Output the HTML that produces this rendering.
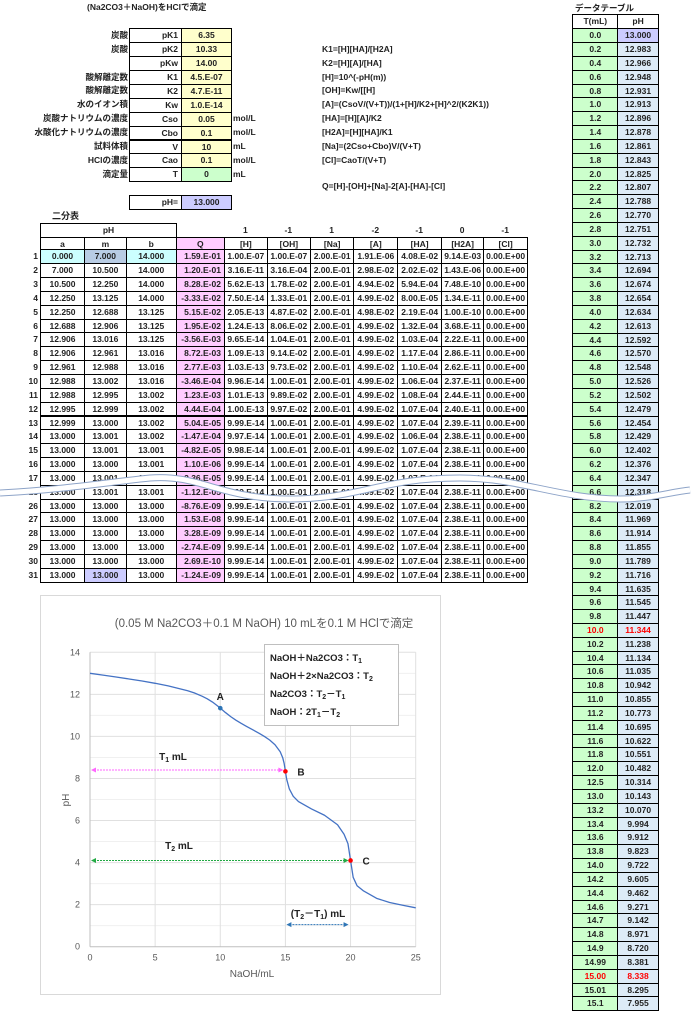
<!DOCTYPE html>
<html><head><meta charset="utf-8">
<style>
body{margin:0;width:700px;height:1012px;overflow:hidden;background:#fff;position:relative;font-family:"Liberation Sans","Noto Sans CJK JP",sans-serif;font-size:8.5px;font-weight:bold;color:#222}
.a{position:absolute;white-space:nowrap;line-height:14px}
.c{position:absolute;box-sizing:border-box;text-align:center;line-height:13px;border:1px solid #000;white-space:nowrap;overflow:hidden}
.r{text-align:right;padding-right:3px}
svg{font-weight:normal}
</style></head><body>
<div class="a" style="left:87px;top:0px">(Na2CO3＋NaOH)をHClで滴定</div>
<div class="a" style="left:575px;top:1px">データテーブル</div>
<div class="a" style="left:52px;top:209px;font-size:9px">二分表</div>
<div id="params"></div>
<div id="bis"></div>
<div id="dt"></div>

<svg style="position:absolute;left:0;top:0" width="700" height="1012">
<path d="M0,493 C60,490 110,482 150,478 C200,474 220,499 290,499 C360,499 380,478 460,478 C520,478 560,499 620,499 C650,499 670,492 690,490" fill="none" stroke="#8ea4c8" stroke-width="7"/>
<path d="M0,493 C60,490 110,482 150,478 C200,474 220,499 290,499 C360,499 380,478 460,478 C520,478 560,499 620,499 C650,499 670,492 690,490" fill="none" stroke="#fff" stroke-width="5"/>
</svg>

<svg id="chart" style="position:absolute;left:40px;top:595px" width="401" height="401" font-family="Liberation Sans, Noto Sans CJK JP, sans-serif"></svg>

<script>
const NS='http://www.w3.org/2000/svg';
function div(parent,cls,style,text){const d=document.createElement('div');d.className=cls;d.style.cssText=style;if(text!==undefined)d.textContent=text;parent.appendChild(d);return d;}
// ---- parameters ----
const pLabels=['炭酸','炭酸','','酸解離定数','酸解離定数','水のイオン積','炭酸ナトリウムの濃度','水酸化ナトリウムの濃度','試料体積','HClの濃度','滴定量'];
const pSyms=['pK1','pK2','pKw','K1','K2','Kw','Cso','Cbo','V','Cao','T'];
const pVals=['6.35','10.33','14.00','4.5.E-07','4.7.E-11','1.0.E-14','0.05','0.1','10','0.1','0'];
const pUnits=['','','','','','','mol/L','mol/L','mL','mol/L','mL'];
const formulas=['','K1=[H][HA]/[H2A]','K2=[H][A]/[HA]','[H]=10^(-pH(m))','[OH]=Kw/[[H]','[A]=(CsoV/(V+T))/(1+[H]/K2+[H]^2/(K2K1))','[HA]=[H][A]/K2','[H2A]=[H][HA]/K1','[Na]=(2Cso+Cbo)V/(V+T)','[Cl]=CaoT/(V+T)',''];
const P=document.getElementById('params');
for(let i=0;i<11;i++){
  const y=28.3+i*13.9;
  let e;
  if(pLabels[i]){e=div(P,'a',`left:0;width:128px;text-align:right;top:${y-0.5}px`,pLabels[i]);
  
  }
  e=div(P,'c r',`left:129px;top:${y}px;width:53px;height:14.9px`,pSyms[i]);
  
  
  e=div(P,'c',`left:181px;top:${y}px;width:51px;height:14.9px;background:${i==10?'#ccffcc':'#ffffcc'}`,pVals[i]);
  
  
  if(pUnits[i]){e=div(P,'a',`left:233px;top:${y-0.5}px`,pUnits[i]);
  
  }
  if(formulas[i]){e=div(P,'a',`left:322px;top:${y-0.5}px`,formulas[i]);
  
  }
}
let e=div(P,'a','left:322px;top:179px','Q=[H]-[OH]+[Na]-2[A]-[HA]-[Cl]');


e=div(P,'c r','left:129px;top:195px;width:53px;height:15px','pH=');


e=div(P,'c','left:181px;top:195px;width:51px;height:15px;background:#ccccff','13.000');



// ---- bisection table ----
const colX=[40,84,125.7,175.7,224,266.7,310,353.3,397.3,441,483.3,527];
const coefs=['1','-1','1','-2','-1','0','-1'];
const heads=['a','m','b','Q','[H]','[OH]','[Na]','[A]','[HA]','[H2A]','[Cl]'];
const rowNums=[1,2,3,4,5,6,7,8,9,10,11,12,13,14,15,16,17,18,26,27,28,29,30,31];
const colA=['0.000','7.000','10.500','12.250','12.250','12.688','12.906','12.906','12.961','12.988','12.988','12.995','12.999','13.000','13.000','13.000','13.000','13.000','13.000','13.000','13.000','13.000','13.000','13.000'];
const colM=['7.000','10.500','12.250','13.125','12.688','12.906','13.016','12.961','12.988','13.002','12.995','12.999','13.000','13.001','13.001','13.000','13.001','13.001','13.000','13.000','13.000','13.000','13.000','13.000'];
const colB=['14.000','14.000','14.000','14.000','13.125','13.125','13.125','13.016','13.016','13.016','13.002','13.002','13.002','13.002','13.001','13.001','13.001','13.001','13.000','13.000','13.000','13.000','13.000','13.000'];
const colQ=['1.59.E-01','1.20.E-01','8.28.E-02','-3.33.E-02','5.15.E-02','1.95.E-02','-3.56.E-03','8.72.E-03','2.77.E-03','-3.46.E-04','1.23.E-03','4.44.E-04','5.04.E-05','-1.47.E-04','-4.82.E-05','1.10.E-06','-2.36.E-05','-1.12.E-05','-8.76.E-09','1.53.E-08','3.28.E-09','-2.74.E-09','2.69.E-10','-1.24.E-09'];
const colH=['1.00.E-07','3.16.E-11','5.62.E-13','7.50.E-14','2.05.E-13','1.24.E-13','9.65.E-14','1.09.E-13','1.03.E-13','9.96.E-14','1.01.E-13','1.00.E-13','9.99.E-14','9.97.E-14','9.98.E-14','9.99.E-14','9.99.E-14','9.99.E-14','9.99.E-14','9.99.E-14','9.99.E-14','9.99.E-14','9.99.E-14','9.99.E-14'];
const colOH=['1.00.E-07','3.16.E-04','1.78.E-02','1.33.E-01','4.87.E-02','8.06.E-02','1.04.E-01','9.14.E-02','9.73.E-02','1.00.E-01','9.89.E-02','9.97.E-02','1.00.E-01','1.00.E-01','1.00.E-01','1.00.E-01','1.00.E-01','1.00.E-01','1.00.E-01','1.00.E-01','1.00.E-01','1.00.E-01','1.00.E-01','1.00.E-01'];
const colAA=['1.91.E-06','2.98.E-02','4.94.E-02','4.99.E-02','4.98.E-02'];
const colHA=['4.08.E-02','2.02.E-02','5.94.E-04','8.00.E-05','2.19.E-04','1.32.E-04','1.03.E-04','1.17.E-04','1.10.E-04','1.06.E-04','1.08.E-04','1.07.E-04','1.07.E-04','1.06.E-04','1.07.E-04','1.07.E-04','1.07.E-04','1.07.E-04','1.07.E-04','1.07.E-04','1.07.E-04','1.07.E-04','1.07.E-04','1.07.E-04'];
const colH2A=['9.14.E-03','1.43.E-06','7.48.E-10','1.34.E-11','1.00.E-10','3.68.E-11','2.22.E-11','2.86.E-11','2.62.E-11','2.37.E-11','2.44.E-11','2.40.E-11','2.39.E-11','2.38.E-11','2.38.E-11','2.38.E-11','2.38.E-11','2.38.E-11','2.38.E-11','2.38.E-11','2.38.E-11','2.38.E-11','2.38.E-11','2.38.E-11'];
const B=document.getElementById('bis');
e=div(B,'c',`left:40px;top:222.5px;width:137px;height:15.2px`,'pH');


for(let j=0;j<7;j++){e=div(B,'a',`left:${colX[j+4]}px;width:${colX[j+5]-colX[j+4]}px;text-align:center;top:223px`,coefs[j]);

}
for(let j=0;j<11;j++){e=div(B,'c',`left:${colX[j]}px;top:236.7px;width:${colX[j+1]-colX[j]+1}px;height:13.6px;${j==3?'background:#ffccff':''}`,heads[j]);

}
const rh=13.85;
for(let i=0;i<24;i++){
  const y=249.3+i*rh;
  e=div(B,'a',`left:0;width:38px;text-align:right;top:${y}px`,String(rowNums[i]));
  
  
  const vals=[colA[i],colM[i],colB[i],colQ[i],colH[i],colOH[i],'2.00.E-01',colAA[i]||'4.99.E-02',colHA[i],colH2A[i],'0.00.E+00'];
  for(let j=0;j<11;j++){
    let bg='';
    if(j==3)bg='background:#ffccff';
    if(i==0&&(j==0||j==2))bg='background:#ccffff';
    if(i==0&&j==1)bg='background:#b8cce4';
    if(i==23&&j==1)bg='background:#ccccff';
    e=div(B,'c'+(j>=3?' r':''),`left:${colX[j]}px;top:${y}px;width:${colX[j+1]-colX[j]+1}px;height:${rh+1}px;${bg};${j>=4?'text-align:center;padding:0':''}`,vals[j]);
    
    
  }
}

// ---- data table ----
const tVals=['0.0','0.2','0.4','0.6','0.8','1.0','1.2','1.4','1.6','1.8','2.0','2.2','2.4','2.6','2.8','3.0','3.2','3.4','3.6','3.8','4.0','4.2','4.4','4.6','4.8','5.0','5.2','5.4','5.6','5.8','6.0','6.2','6.4','6.6','8.2','8.4','8.6','8.8','9.0','9.2','9.4','9.6','9.8','10.0','10.2','10.4','10.6','10.8','11.0','11.2','11.4','11.6','11.8','12.0','12.5','13.0','13.2','13.4','13.6','13.8','14.0','14.2','14.4','14.6','14.7','14.8','14.9','14.99','15.00','15.01','15.1'];
const phVals=['13.000','12.983','12.966','12.948','12.931','12.913','12.896','12.878','12.861','12.843','12.825','12.807','12.788','12.770','12.751','12.732','12.713','12.694','12.674','12.654','12.634','12.613','12.592','12.570','12.548','12.526','12.502','12.479','12.454','12.429','12.402','12.376','12.347','12.318','12.019','11.969','11.914','11.855','11.789','11.716','11.635','11.545','11.447','11.344','11.238','11.134','11.035','10.942','10.855','10.773','10.695','10.622','10.551','10.482','10.314','10.143','10.070','9.994','9.912','9.823','9.722','9.605','9.462','9.271','9.142','8.971','8.720','8.381','8.338','8.295','7.955'];
const D=document.getElementById('dt');
e=div(D,'c','left:572.3px;top:14.3px;width:46px;height:15px','T(mL)');


e=div(D,'c','left:617.3px;top:14.3px;width:41.5px;height:15px','pH');


for(let i=0;i<tVals.length;i++){
  const y=28.3+i*13.83;
  const red=(tVals[i]=='10.0'||tVals[i]=='15.00')?'color:#ff0000;':'';
  e=div(D,'c',`left:572.3px;top:${y}px;width:46px;height:14.9px;background:#ccffcc;${red}`,tVals[i]);
  
  
  e=div(D,'c',`left:617.3px;top:${y}px;width:41.5px;height:14.9px;background:${i==0?'#ccccff':'#ddebf7'};${red}`,phVals[i]);
  
  
}

// ---- chart ----
const curveT=[0,1,2,3,4,5,6,7,7.5,8,8.6,9,9.4,9.8,10,10.4,10.8,11.2,11.6,12,12.5,13,13.4,13.8,14.2,14.6,14.8,14.9,14.99,15,15.01,15.1,15.3,15.6,16,17,18,19,19.5,19.8,20,20.2,20.5,21,22,23,24,25];
const curvePH=[13.0,12.913,12.825,12.732,12.634,12.526,12.402,12.25,12.17,12.07,11.914,11.789,11.635,11.447,11.344,11.134,10.942,10.773,10.622,10.482,10.314,10.143,9.994,9.823,9.605,9.271,8.971,8.72,8.381,8.338,8.295,7.955,7.5,7.15,6.9,6.55,6.25,5.8,5.35,4.9,4.1,3.3,2.9,2.65,2.3,2.1,1.97,1.85];
const markT=[10,15,20];
const markPH=[11.344,8.338,4.1];
const markLabels=['A','B','C'];
const xTicks=[0,5,10,15,20,25];
const yTicks=[0,2,4,6,8,10,12,14];
const X=v=>50+v*(325.7/25), Y=v=>351.7-v*(294.4/14);
const S=document.getElementById('chart');
function sv(tag,attrs,text){const n=document.createElementNS(NS,tag);for(const k in attrs)n.setAttribute(k,attrs[k]);if(text!==undefined)n.textContent=text;S.appendChild(n);return n;}
let n=sv('rect',{x:0.5,y:0.5,width:400,height:399,fill:'#fff',stroke:'#d9d9d9'});


for(let v=1;v<=14;v++){n=sv('line',{x1:X(0),x2:X(25),y1:Y(v),y2:Y(v),stroke:v%2?'#f0f0f0':'#e0e0e0','stroke-width':1});

}
for(const v of xTicks.slice(1)){n=sv('line',{x1:X(v),x2:X(v),y1:Y(0),y2:Y(14),stroke:'#e0e0e0','stroke-width':1});

}
n=sv('line',{x1:X(0),x2:X(0),y1:Y(0),y2:Y(14),stroke:'#bfbfbf'});


n=sv('line',{x1:X(0),x2:X(25),y1:Y(0),y2:Y(0),stroke:'#bfbfbf'});


for(const v of yTicks){n=sv('text',{x:X(0)-10,y:Y(v)+3,'text-anchor':'end','font-size':9,fill:'#595959'},String(v));

}
for(const v of xTicks){n=sv('text',{x:X(v),y:Y(0)+14,'text-anchor':'middle','font-size':9,fill:'#595959'},String(v));

}
n=sv('text',{x:212,y:382,'text-anchor':'middle','font-size':10,fill:'#595959'},'NaOH/mL');


n=sv('text',{x:29,y:205,'text-anchor':'middle','font-size':10,fill:'#595959',transform:'rotate(-90 29 205)'},'pH');


n=sv('text',{x:224,y:32,'text-anchor':'middle','font-size':11.5,fill:'#595959'},'(0.05 M Na2CO3＋0.1 M NaOH) 10 mLを0.1 M HClで滴定');


// arrows
function arrow(t0,t1,ph,col,name){
  const y=Y(ph);
  n=sv('line',{x1:X(t0)+4,x2:X(t1)-5,y1:y,y2:y,stroke:col,'stroke-width':1,'stroke-dasharray':'2,1'});
  
  
  sv('path',{d:`M${X(t0)+1},${y} l5,-2.5 v5z`,fill:col});
  sv('path',{d:`M${X(t1)-2},${y} l-5,-2.5 v5z`,fill:col});
}
arrow(0,15,8.4,'#ff66ff','t1-arrow');
arrow(0,20,4.1,'#22aa44','t2-arrow');
arrow(15,20,1.05,'#2e75b6','t2-t1-arrow');
n=sv('text',{x:133,y:165,'text-anchor':'middle','font-size':10,'font-weight':'bold',fill:'#222'});
n.innerHTML='T<tspan font-size="7" dy="2">1</tspan><tspan dy="-2"> mL</tspan>';


n=sv('text',{x:139,y:254,'text-anchor':'middle','font-size':10,'font-weight':'bold',fill:'#222'});
n.innerHTML='T<tspan font-size="7" dy="2">2</tspan><tspan dy="-2"> mL</tspan>';


n=sv('text',{x:278,y:322,'text-anchor':'middle','font-size':10,'font-weight':'bold',fill:'#222'});
n.innerHTML='(T<tspan font-size="7" dy="2">2</tspan><tspan dy="-2">－T</tspan><tspan font-size="7" dy="2">1</tspan><tspan dy="-2">) mL</tspan>';


// curve
let d='';curveT.forEach((t,i)=>{d+=(i?'L':'M')+X(t).toFixed(2)+','+Y(curvePH[i]).toFixed(2);});
n=sv('path',{d:d,fill:'none',stroke:'#4472c4','stroke-width':1.3,'stroke-linejoin':'round'});


markT.forEach((t,i)=>{
  n=sv('circle',{cx:X(t),cy:Y(markPH[i]),r:2.3,fill:i==0?'#2e75b6':'#ff0000'});
  
  
  const lx=i==0?X(t):X(t)+12, ly=i==0?Y(markPH[i])-8:Y(markPH[i])+4;
  n=sv('text',{x:lx,y:ly,'text-anchor':i==0?'middle':'start','font-size':10,'font-weight':'bold',fill:'#222'},markLabels[i]);
  
  
});
// legend box
n=sv('rect',{x:224.5,y:49.5,width:134,height:81,fill:'#fff',stroke:'#bfbfbf'});


const legLines=['NaOH＋Na2CO3：T<tspan font-size="7" dy="2">1</tspan>','NaOH＋2×Na2CO3：T<tspan font-size="7" dy="2">2</tspan>','Na2CO3：T<tspan font-size="7" dy="2">2</tspan><tspan dy="-2">－T</tspan><tspan font-size="7" dy="2">1</tspan>','NaOH：2T<tspan font-size="7" dy="2">1</tspan><tspan dy="-2">－T</tspan><tspan font-size="7" dy="2">2</tspan>'];
legLines.forEach((h,i)=>{n=sv('text',{x:230,y:66+i*18,'font-size':9.5,'font-weight':'bold',fill:'#222'});n.innerHTML=h;

});
</script>
</body></html>
